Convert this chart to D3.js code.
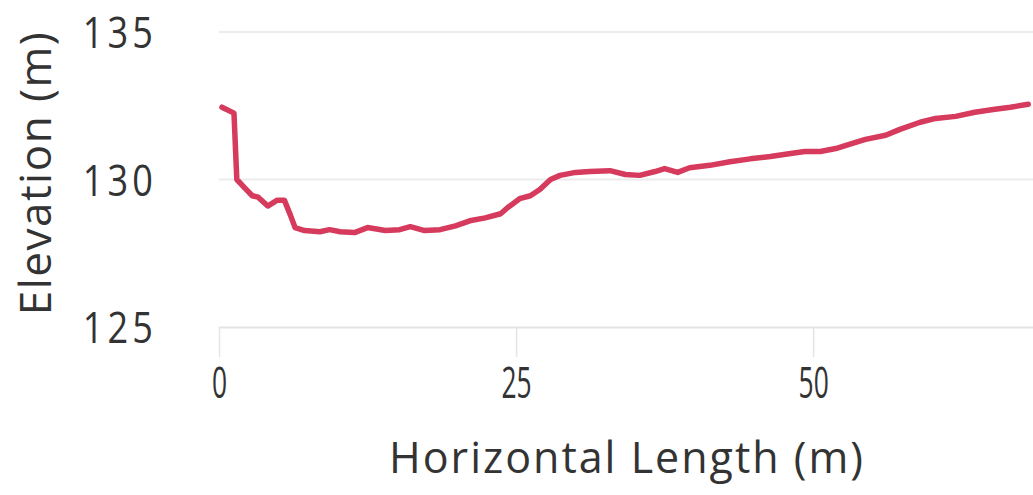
<!DOCTYPE html>
<html><head><meta charset="utf-8">
<script src="https://cdn.jsdelivr.net/npm/d3@7"></script>
<style>html,body{margin:0;padding:0;background:#fff;}svg{display:block;}</style>
</head><body>
<script>
const lengths = [0.25,1.26,1.5,2.2,2.8,3.3,4.1,4.9,5.5,6.0,6.4,7.2,8.5,9.3,10.2,11.4,12.5,14.0,15.2,16.1,17.3,18.6,19.9,21.1,22.4,23.7,24.3,25.3,26.2,27.0,27.9,28.7,30.0,31.2,32.9,34.2,35.4,36.7,37.5,38.6,39.6,41.3,43.0,44.7,46.4,48.1,49.3,50.6,51.9,53.1,54.4,56.1,57.3,59.0,60.3,62.0,63.6,65.3,66.6,68.1];
const elevations = [132.45,132.25,130.0,129.7,129.45,129.4,129.1,129.3,129.3,128.8,128.37,128.27,128.23,128.3,128.23,128.2,128.37,128.27,128.3,128.4,128.27,128.3,128.43,128.6,128.7,128.84,129.05,129.35,129.45,129.66,130.0,130.14,130.24,130.27,130.3,130.17,130.14,130.27,130.37,130.24,130.4,130.48,130.6,130.7,130.78,130.88,130.95,130.95,131.05,131.2,131.36,131.5,131.7,131.94,132.07,132.14,132.28,132.38,132.45,132.55];
const xTicks = [0,25,50];
const yTicks = [125,130,135];

const W = 1033, H = 495;
const svg = d3.select("body").append("svg").attr("width",W).attr("height",H);
const x = d3.scaleLinear().domain([0,68.5]).range([219,1033]);
const y = d3.scaleLinear().domain([125,135]).range([327,32]);
const font = "'Open Sans', 'Noto Sans', sans-serif";

// grid lines
svg.append("g").selectAll("line").data(yTicks.filter(d=>d!==125)).join("line")
  .attr("x1",x(0)).attr("x2",W).attr("y1",d=>y(d)).attr("y2",d=>y(d))
  .attr("stroke","#ececec").attr("stroke-width",2);

// x axis
const xa = svg.append("g").attr("transform",`translate(0,${y(125)})`)
  .call(d3.axisBottom(x).tickValues(xTicks).tickSize(30).tickPadding(10).tickSizeOuter(0));
xa.select(".domain").attr("stroke","#e4e4e4").attr("stroke-width",2);
xa.selectAll(".tick line").attr("stroke","#e4e4e4").attr("stroke-width",1.5);
xa.selectAll(".tick text").attr("font-family",font).attr("font-size",44).attr("fill","#333")
  .attr("transform","scale(0.6,1)").attr("y",40).attr("dy","0.71em");

// y axis labels
const ya = svg.append("g").attr("transform",`translate(157,0)`)
  .call(d3.axisLeft(y).tickValues(yTicks).tickSize(0).tickPadding(0));
ya.select(".domain").remove();
ya.selectAll(".tick text").attr("font-family",font).attr("font-size",44).attr("fill","#333")
  .attr("transform","scale(0.82,1)")
  .attr("letter-spacing","5px").attr("dy","0.36em");

// line
const line = d3.line().x((d,i)=>x(lengths[i])).y(d=>y(d)).curve(d3.curveLinear);
svg.append("path").datum(elevations).attr("d",line)
  .attr("fill","none").attr("stroke","#d63a5c").attr("stroke-width",5.5)
  .attr("stroke-linejoin","round").attr("stroke-linecap","round");

// axis titles
svg.append("text").attr("transform",`translate(51,173) rotate(-90)`)
  .attr("text-anchor","middle").attr("font-family",font).attr("font-size",44).attr("fill","#333")
  .attr("letter-spacing","1.5px")
  .text("Elevation (m)");
svg.append("text").attr("x",627).attr("y",473)
  .attr("text-anchor","middle").attr("font-family",font).attr("font-size",43).attr("fill","#333")
  .attr("letter-spacing","2px")
  .text("Horizontal Length (m)");
</script>
</body></html>
